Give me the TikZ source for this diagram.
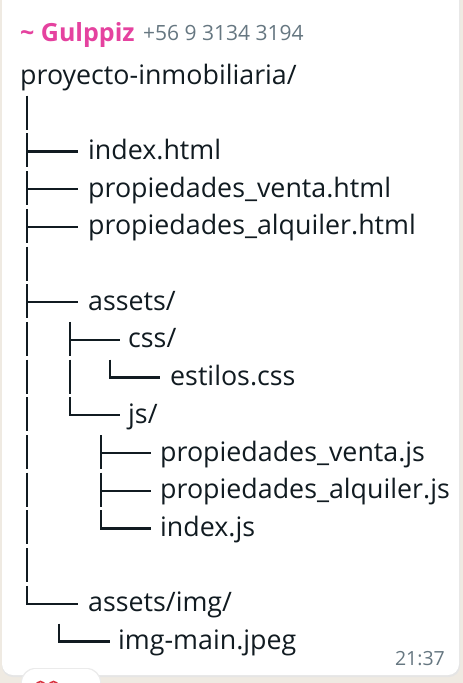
\documentclass[tikz,border=0pt]{standalone}
\usepackage{fontspec}
\setmainfont{Open Sans}
\definecolor{ink}{HTML}{111B21}
\definecolor{bgc}{HTML}{EFEAE2}
\definecolor{meta}{HTML}{667781}
\definecolor{pinkname}{HTML}{E5429F}
\definecolor{heartred}{HTML}{D93340}
\newcommand\vseg[2]{\draw[tree] (#1,{76+37.7*#2-18}) -- (#1,{76+37.7*#2+16});}
\newcommand\tseg[3]{\vseg{#1}{#2}\draw[tree] (#1,{76+37.7*#2}) -- ({#1+#3},{76+37.7*#2});}
\newcommand\lseg[3]{\draw[tree] (#1,{76+37.7*#2-18}) -- (#1,{76+37.7*#2}) -- ({#1+#3},{76+37.7*#2});}
\begin{document}
\begin{tikzpicture}[x=1pt,y=-1pt,
  tree/.style={line width=2.3pt, draw=ink, line join=miter},
  lbl/.style={anchor=base west, inner sep=0pt, font=\fontsize{26.8}{30}\selectfont, text=ink}]
\useasboundingbox (0,0) rectangle (463,683);
\fill[bgc] (0,0) rectangle (463,683);
% bubble
\fill[black!10, rounded corners=11pt] (2,-12) rectangle (460,677);
\fill[white, rounded corners=11pt] (2,-12) rectangle (459,675);
% reaction pill
\fill[black!8, rounded corners=14pt] (21,668) rectangle (101,710);
\fill[white, rounded corners=14pt] (22,669) rectangle (100,710);
\draw[heartred, line width=1.6pt] (36,686) arc[start angle=180, end angle=360, radius=4.5];
\draw[heartred, line width=1.6pt] (49,686) arc[start angle=180, end angle=360, radius=4.5];
% header
\node[anchor=base west, inner sep=0pt, text=pinkname, font=\bfseries\fontsize{25}{28}\selectfont] (name) at (20,41.5) {\textasciitilde{} Gulppiz};
\node[anchor=base west, inner sep=0pt, text=meta, font=\fontsize{21}{24}\selectfont] (phone) at (143,40.5) {+56 9 3134 3194};
\node[anchor=base east, inner sep=0pt, text=meta, font=\fontsize{19.5}{22}\selectfont] (time) at (445,665) {21:37};
% tree lines
\vseg{27}{1}
\tseg{27}{2}{51}
\tseg{27}{3}{51}
\tseg{27}{4}{51}
\vseg{27}{5}
\tseg{27}{6}{51}
\foreach \k in {7,...,13} {\vseg{27}{\k}}
\lseg{27}{14}{51}
\tseg{70}{7}{50}
\vseg{70}{8}
\lseg{70}{9}{50}
\lseg{110}{8}{50}
\tseg{101}{10}{50}
\tseg{101}{11}{50}
\lseg{101}{12}{50}
\lseg{59}{15}{51}
% labels
\node[lbl] (root) at (20,84) {proyecto-inmobiliaria/};
\node[lbl] (idx) at (88,{76+37.7*2+8}) {index.html};
\node[lbl] (pv) at (88,{76+37.7*3+8}) {propiedades\_venta.html};
\node[lbl] (pa) at (88,{76+37.7*4+8}) {propiedades\_alquiler.html};
\node[lbl] (assets) at (88,{76+37.7*6+8}) {assets/};
\node[lbl] (css) at (128,{76+37.7*7+8}) {css/};
\node[lbl] (est) at (170,{76+37.7*8+8}) {estilos.css};
\node[lbl] (js) at (128,{76+37.7*9+8}) {js/};
\node[lbl] (pvjs) at (160,{76+37.7*10+8}) {propiedades\_venta.js};
\node[lbl] (pajs) at (160,{76+37.7*11+8}) {propiedades\_alquiler.js};
\node[lbl] (idxjs) at (160,{76+37.7*12+8}) {index.js};
\node[lbl] (img) at (88,{76+37.7*14+8}) {assets/img/};
\node[lbl] (main) at (118,{76+37.7*15+8}) {img-main.jpeg};
\end{tikzpicture}
\end{document}
